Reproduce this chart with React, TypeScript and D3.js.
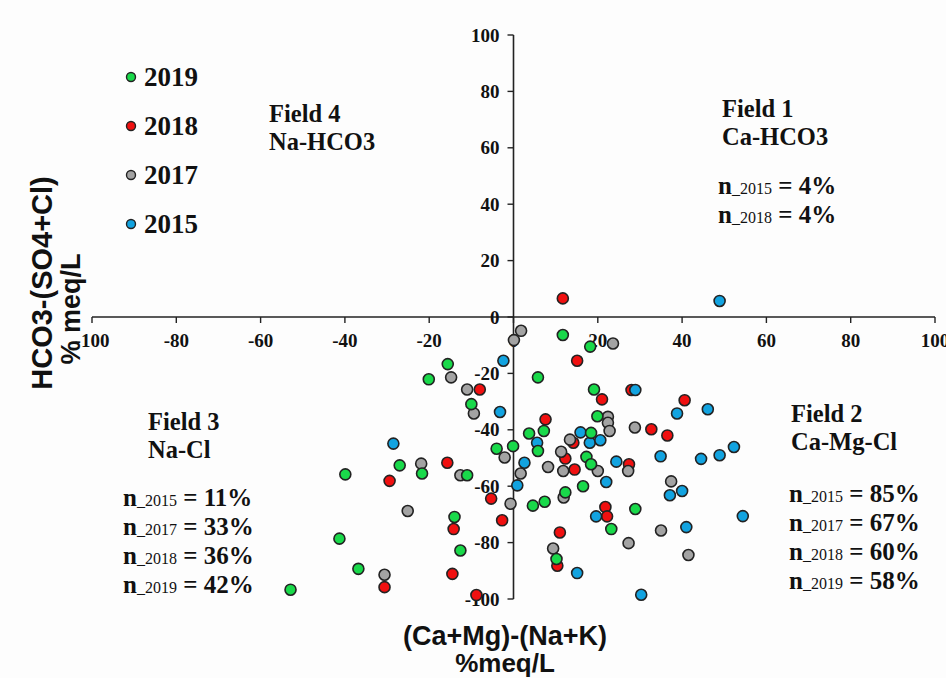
import React from 'react';
import * as d3 from 'd3';

// [x, y] = [(Ca+Mg)-(Na+K), HCO3-(SO4+Cl)] in % meq/L
const pts2019: [number, number][] = [
  [11.7, -6.4], [18.2, -10.5], [-15.6, -16.7], [-20.1, -22.1], [5.8, -21.4],
  [-10.0, -30.9], [7.2, -40.4], [3.7, -41.3], [5.8, -47.5], [17.3, -49.6],
  [-4.0, -46.7], [-0.1, -45.8], [16.5, -60.0], [-21.7, -55.5], [-11.0, -56.1],
  [4.6, -66.9], [7.4, -65.5], [12.3, -62.2], [-14.0, -70.9], [-12.6, -82.8],
  [10.2, -85.8], [-27.0, -52.6], [-39.9, -55.8], [-41.3, -78.6], [-36.8, -89.3],
  [-52.9, -96.7], [28.9, -68.1], [23.2, -75.2], [19.1, -25.7], [19.9, -35.2],
  [18.4, -41.1], [18.4, -52.2],
];

const pts2018: [number, number][] = [
  [11.7, 6.6], [15.1, -15.5], [-8.0, -25.7], [7.6, -36.3], [14.2, -44.6],
  [12.3, -50.2], [14.5, -54.1], [-15.7, -51.7], [-5.3, -64.4], [-14.2, -75.2],
  [-2.7, -72.1], [11.0, -76.4], [10.4, -88.2], [-14.5, -91.1], [-8.8, -98.6],
  [-29.4, -58.1], [-30.6, -95.8], [21.0, -29.2], [40.6, -29.5], [32.7, -39.8],
  [36.5, -42.0], [27.4, -52.2], [21.8, -67.4], [22.2, -70.7], [28.0, -25.9],
];

const pts2017: [number, number][] = [
  [1.8, -4.9], [0.1, -8.2], [-14.8, -21.4], [-11.0, -25.7], [-9.4, -34.2],
  [13.4, -43.5], [11.3, -47.8], [-2.1, -49.8], [8.2, -53.2], [11.8, -54.6],
  [1.7, -55.5], [-21.9, -52.0], [-12.6, -56.1], [-0.7, -66.2], [11.9, -64.0],
  [9.4, -82.1], [-25.1, -68.8], [-30.6, -91.4], [23.6, -9.4], [22.4, -35.4],
  [22.4, -37.5], [22.8, -40.4], [28.8, -39.2], [27.2, -54.6], [37.4, -58.3],
  [35.0, -75.7], [27.3, -80.2], [41.5, -84.4], [20.0, -54.6],
];

const pts2015: [number, number][] = [
  [-2.4, -15.5], [-3.2, -33.7], [15.9, -40.9], [5.6, -44.6], [18.1, -44.6],
  [20.6, -43.7], [2.6, -51.7], [0.9, -59.7], [15.1, -90.8], [-28.5, -44.9],
  [48.9, 5.7], [28.9, -25.9], [46.1, -32.7], [38.8, -34.2], [34.9, -49.4],
  [44.5, -50.3], [48.9, -49.0], [52.3, -46.1], [24.4, -51.3], [22.0, -58.5],
  [40.0, -61.7], [37.1, -63.2], [54.4, -70.6], [41.0, -74.5], [30.3, -98.5],
  [19.6, -70.7],
];

const years = ['2019', '2018', '2017', '2015'];
const yearColors = ['#19d94a', '#f01010', '#a3a3a3', '#12a3e0'];
const ticks = [-100, -80, -60, -40, -20, 0, 20, 40, 60, 80, 100];

const field1 = ['Field 1', 'Ca-HCO3'];
const field1N = [['2015', '4%'], ['2018', '4%']];
const field2 = ['Field 2', 'Ca-Mg-Cl'];
const field2N = [['2015', '85%'], ['2017', '67%'], ['2018', '60%'], ['2019', '58%']];
const field3 = ['Field 3', 'Na-Cl'];
const field3N = [['2015', '11%'], ['2017', '33%'], ['2018', '36%'], ['2019', '42%']];
const field4 = ['Field 4', 'Na-HCO3'];

const serif = '"Liberation Serif", "Times New Roman", serif';
const sans = '"Liberation Sans", Arial, sans-serif';

const NLine = ({ x, y, yr, pct }: { x: number; y: number; yr: string; pct: string }) => (
  <text x={x} y={y} fontFamily={serif} fill="#111">
    <tspan fontSize={25} fontWeight="bold">n</tspan>
    <tspan fontSize={16}>_{yr}</tspan>
    <tspan fontSize={25} fontWeight="bold"> = {pct}</tspan>
  </text>
);

const FieldBlock = ({ x, y, lines, nx, ny, nLines }: any) => (
  <g>
    {lines.map((t: string, i: number) => (
      <text key={t} x={x} y={y + i * 28} fontFamily={serif} fontWeight="bold" fontSize={24.5} fill="#111">
        {t}
      </text>
    ))}
    {nLines.map((d: string[], i: number) => (
      <NLine key={d[0]} x={nx} y={ny + i * 29} yr={d[0]} pct={d[1]} />
    ))}
  </g>
);

export default function App() {
  const W = 946;
  const H = 678;
  const x = d3.scaleLinear().domain([-100, 100]).range([92, 935]);
  const y = d3.scaleLinear().domain([-100, 100]).range([599, 35]);

  // draw order: 2018, 2017, 2015, 2019 on top
  const series = [
    { pts: pts2018, color: yearColors[1] },
    { pts: pts2017, color: yearColors[2] },
    { pts: pts2015, color: yearColors[3] },
    { pts: pts2019, color: yearColors[0] },
  ];

  return (
    <svg width={W} height={H} style={{ position: 'absolute', left: 0, top: 0, background: '#fdfdfd' }}>
      {/* x axis */}
      <line x1={x(-100)} x2={x(100)} y1={y(0)} y2={y(0)} stroke="#222" strokeWidth={1.6} />
      {ticks.map((t) => (
        <g key={'xt' + t}>
          <line x1={x(t)} x2={x(t)} y1={y(0)} y2={y(0) + 6} stroke="#222" strokeWidth={1.4} />
          <text x={x(t)} y={y(0) + 30} textAnchor="middle" fontFamily={serif} fontWeight="bold" fontSize={19} fill="#111">
            {t}
          </text>
        </g>
      ))}
      {/* y axis */}
      <line x1={x(0)} x2={x(0)} y1={y(100)} y2={y(-100)} stroke="#222" strokeWidth={1.6} />
      {ticks.map((t) => (
        <g key={'yt' + t}>
          <line x1={x(0) - 6} x2={x(0)} y1={y(t)} y2={y(t)} stroke="#222" strokeWidth={1.4} />
          <text x={x(0) - 14} y={y(t)} dy="0.35em" textAnchor="end" fontFamily={serif} fontWeight="bold" fontSize={19} fill="#111">
            {t}
          </text>
        </g>
      ))}

      {/* points */}
      {series.map((s, si) => (
        <g key={si}>
          {s.pts.map((p, i) => (
            <circle key={i} cx={x(p[0])} cy={y(p[1])} r={5.5} fill={s.color} stroke="#222" strokeWidth={1.6} />
          ))}
        </g>
      ))}

      {/* legend */}
      {years.map((yr, i) => (
        <g key={yr}>
          <circle cx={131} cy={77 + i * 49} r={4.5} fill={yearColors[i]} stroke="#222" strokeWidth={1.4} />
          <text x={144} y={86 + i * 49} fontFamily={serif} fontWeight="bold" fontSize={27} fill="#111">
            {yr}
          </text>
        </g>
      ))}

      {/* field annotations */}
      <FieldBlock x={269} y={122} lines={field4} nx={0} ny={0} nLines={[]} />
      <FieldBlock x={722} y={117} lines={field1} nx={718} ny={194} nLines={field1N} />
      <FieldBlock x={148} y={430} lines={field3} nx={123} ny={506} nLines={field3N} />
      <FieldBlock x={791} y={422} lines={field2} nx={789} ny={502} nLines={field2N} />

      {/* axis titles */}
      <text x={505} y={645} textAnchor="middle" fontFamily={sans} fontWeight="bold" fontSize={27} fill="#111">
        (Ca+Mg)-(Na+K)
      </text>
      <text x={505} y={672} textAnchor="middle" fontFamily={sans} fontWeight="bold" fontSize={26} fill="#111">
        %meq/L
      </text>
      <text transform="translate(52,283) rotate(-90)" textAnchor="middle" fontFamily={sans} fontWeight="bold" fontSize={29} fill="#111">
        HCO3-(SO4+Cl)
      </text>
      <text transform="translate(80,309) rotate(-90)" textAnchor="middle" fontFamily={sans} fontWeight="bold" fontSize={27} fill="#111">
        % meq/L
      </text>
    </svg>
  );
}
